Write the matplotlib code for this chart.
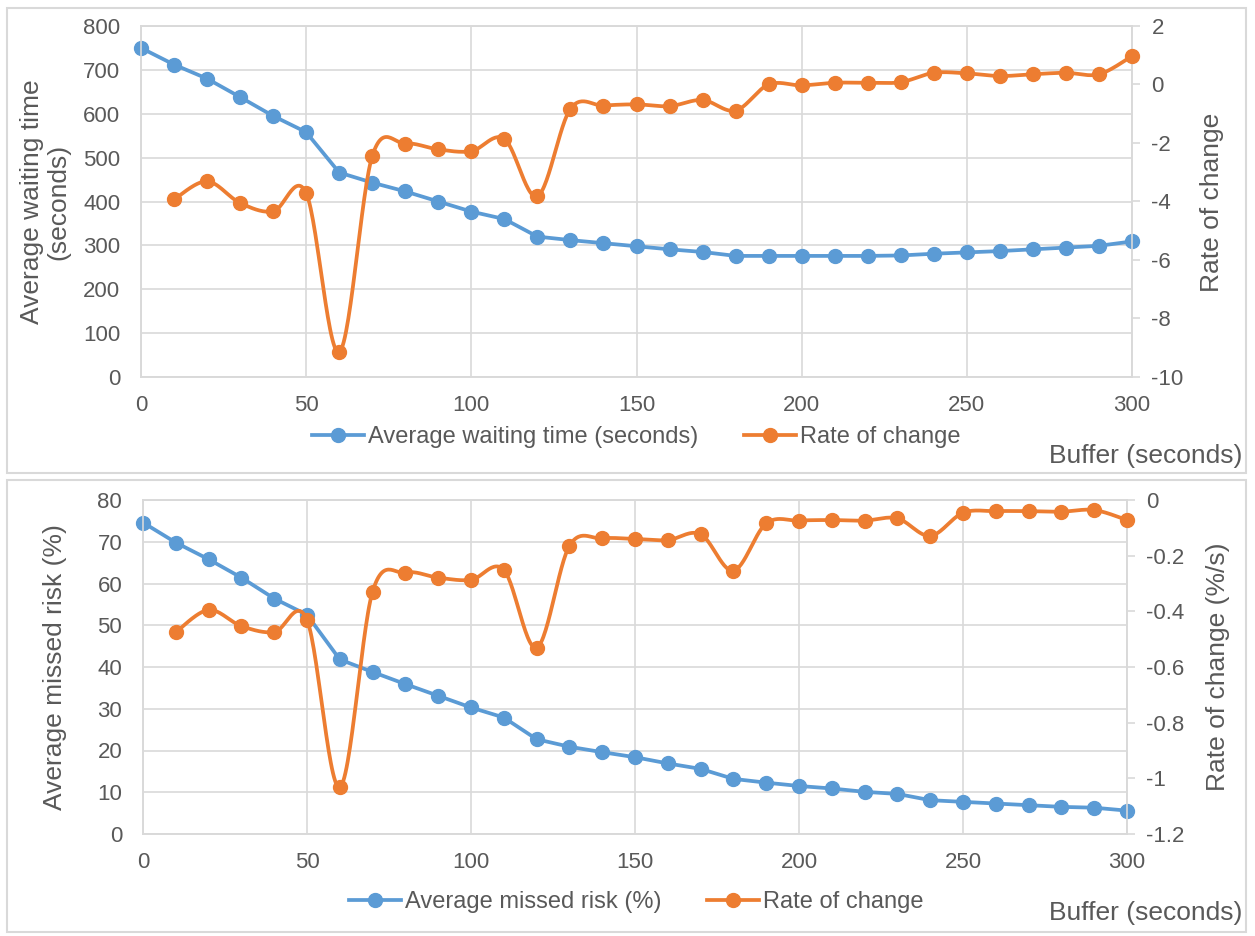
import numpy as np
import matplotlib
matplotlib.use('Agg')
import matplotlib.pyplot as plt
from matplotlib.lines import Line2D
from matplotlib.patches import Rectangle
from matplotlib.ticker import FuncFormatter

plt.rcParams['font.family'] = ['Liberation Sans', 'DejaVu Sans']
plt.rcParams['axes.unicode_minus'] = False

# buffer values (seconds)
buffer_s = [0, 10, 20, 30, 40, 50, 60, 70, 80, 90, 100, 110, 120, 130, 140, 150,
            160, 170, 180, 190, 200, 210, 220, 230, 240, 250, 260, 270, 280, 290, 300]

# top panel
wait_time = [750, 712, 680, 638, 595, 558, 466, 443, 423, 400, 377, 360, 320, 312, 305, 298,
             291, 285, 276, 276, 276, 276, 276, 277, 281, 284, 287, 291, 295, 299, 309]
wait_rate = [-3.93, -3.31, -4.05, -4.34, -3.71, -9.15, -2.45, -2.02, -2.22, -2.28, -1.86,
             -3.82, -0.83, -0.72, -0.68, -0.74, -0.53, -0.89, 0.00, -0.03, 0.06, 0.06, 0.08,
             0.40, 0.38, 0.29, 0.35, 0.40, 0.35, 0.97]

# bottom panel
missed_risk = [74.6, 69.8, 65.8, 61.4, 56.4, 52.5, 41.8, 38.8, 35.9, 33.1, 30.3, 27.9, 22.7,
               20.9, 19.6, 18.4, 16.9, 15.6, 13.2, 12.3, 11.5, 10.9, 10.1, 9.6, 8.1, 7.7, 7.3,
               6.9, 6.5, 6.3, 5.6]
risk_rate = [-0.475, -0.395, -0.453, -0.475, -0.431, -1.032, -0.329, -0.261, -0.279, -0.287,
             -0.251, -0.531, -0.165, -0.138, -0.140, -0.144, -0.123, -0.254, -0.084, -0.074,
             -0.072, -0.074, -0.066, -0.129, -0.046, -0.040, -0.040, -0.042, -0.036, -0.072]

BLUE = '#5B9BD5'
ORANGE = '#ED7D31'
GRID = '#D9D9D9'
TXT = '#595959'
FS_TICK = 16
FS_LEG = 17
FS_TITLE = 19
LW = 2.7
MS = 10

W, H = 1255, 936


def smooth(x, y, n=30):
    # catmull-rom style bezier, like excel smoothed lines
    x = np.asarray(x, float)
    y = np.asarray(y, float)
    px = np.concatenate([[x[0]], x, [x[-1]]])
    py = np.concatenate([[y[0]], y, [y[-1]]])
    t = np.linspace(0, 1, n)[:, None]
    xs, ys = [], []
    for i in range(1, len(px) - 2):
        p0 = np.array([px[i - 1], py[i - 1]])
        p1 = np.array([px[i], py[i]])
        p2 = np.array([px[i + 1], py[i + 1]])
        p3 = np.array([px[i + 2], py[i + 2]])
        c1 = p1 + (p2 - p0) / 6
        c2 = p2 - (p3 - p1) / 6
        b = ((1 - t) ** 3) * p1 + 3 * ((1 - t) ** 2) * t * c1 + 3 * (1 - t) * t ** 2 * c2 + t ** 3 * p2
        xs.append(b[:, 0])
        ys.append(b[:, 1])
    return np.concatenate(xs), np.concatenate(ys)


def box(l, r, b, t):
    return [l / W, 1 - b / H, (r - l) / W, (b - t) / H]


def panel(rect, left_vals, right_vals, ylim, yticks, rlim, rticks, left_label, right_label,
          left_name, label_pos, leg_y, buf_y):
    ax = fig.add_axes(rect)
    ax.set_xlim(0, 300)
    ax.set_ylim(*ylim)
    ax.set_xticks([0, 50, 100, 150, 200, 250, 300])
    ax.set_yticks(yticks)
    ax.grid(True, color=GRID, lw=1.2)
    ax.set_axisbelow(True)
    ax.tick_params(axis='both', length=0, labelsize=FS_TICK, labelcolor=TXT)
    ax.tick_params(axis='y', pad=15)
    ax.tick_params(axis='x', pad=13)
    for s in ax.spines.values():
        s.set_color(GRID)
        s.set_linewidth(1.2)

    ax.plot(buffer_s, left_vals, color=BLUE, lw=LW, marker='o', ms=MS,
            clip_on=False, zorder=3)

    ax2 = ax.twinx()
    ax2.set_ylim(*rlim)
    ax2.set_yticks(rticks)
    ax2.yaxis.set_major_formatter(FuncFormatter(lambda v, p: '%g' % round(v, 2)))
    ax2.tick_params(axis='y', length=6, width=1.2, color=GRID, labelsize=FS_TICK,
                    labelcolor=TXT, pad=8)
    for s in ax2.spines.values():
        s.set_color(GRID)
        s.set_linewidth(1.2)
    sx, sy = smooth(buffer_s[1:], right_vals)
    ax2.plot(sx, sy, color=ORANGE, lw=LW, clip_on=False, zorder=3)
    ax2.plot(buffer_s[1:], right_vals, color=ORANGE, lw=0, marker='o', ms=MS,
             clip_on=False, zorder=4)

    fig.text(label_pos[0] / W, 1 - label_pos[1] / H, left_label, rotation=90, ha='center',
             va='center', fontsize=FS_TITLE, color=TXT, linespacing=1.15)
    fig.text(label_pos[2] / W, 1 - label_pos[1] / H, right_label, rotation=90, ha='center',
             va='center', fontsize=FS_TITLE, color=TXT)

    handles = [Line2D([], [], color=BLUE, lw=LW, marker='o', ms=MS),
               Line2D([], [], color=ORANGE, lw=LW, marker='o', ms=MS)]
    fig.legend(handles, [left_name, 'Rate of change'], loc='center',
               bbox_to_anchor=(0.507, 1 - leg_y / H), ncol=2, frameon=False, fontsize=FS_LEG,
               labelcolor=TXT, handlelength=2.2, handletextpad=0.2, columnspacing=1.9)
    fig.text(1146 / W, 1 - buf_y / H, 'Buffer (seconds)', ha='center', va='center',
             fontsize=FS_TITLE, color=TXT)
    return ax


fig = plt.figure(figsize=(W / 100, H / 100), dpi=100)

fig.patches.append(Rectangle((7 / W, 1 - 473 / H), 1239 / W, 465 / H, transform=fig.transFigure,
                             fill=False, edgecolor=GRID, lw=1.5))
fig.patches.append(Rectangle((7 / W, 1 - 932 / H), 1239 / W, 452 / H, transform=fig.transFigure,
                             fill=False, edgecolor=GRID, lw=1.5))

panel(box(141, 1132, 377, 26), wait_time, wait_rate, (0, 800), range(0, 801, 100),
      (-10, 2), range(-10, 3, 2), 'Average waiting time\n(seconds)', 'Rate of change',
      'Average waiting time (seconds)', (45, 202, 1212), 437, 456)

panel(box(143, 1127, 834, 500), missed_risk, risk_rate, (0, 80), range(0, 81, 10),
      (-1.2, 0), [-1.2, -1.0, -0.8, -0.6, -0.4, -0.2, 0], 'Average missed risk (%)',
      'Rate of change (%/s)', 'Average missed risk (%)', (55, 667, 1218), 902, 913)

fig.savefig('out.png', dpi=100)
